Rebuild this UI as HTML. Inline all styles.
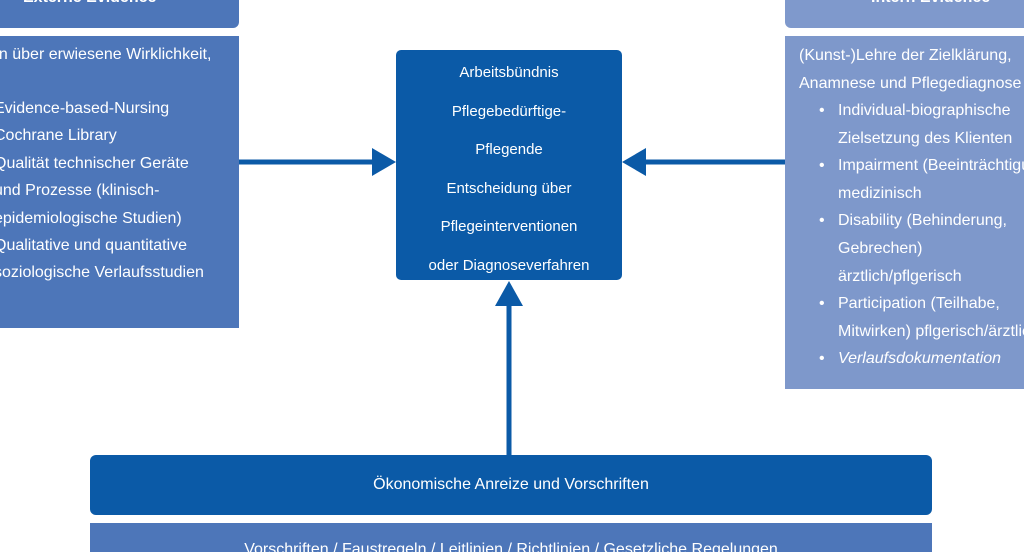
<!DOCTYPE html>
<html><head><meta charset="utf-8"><style>
body{margin:0;width:1024px;height:552px;overflow:hidden;background:#fff;position:relative;font-family:"Liberation Sans",sans-serif;color:#fff}
.b{position:absolute;overflow:hidden}
.t{position:absolute;white-space:nowrap;font-size:15px}
</style></head><body>
<div class="b" style="left:0;top:0;width:239px;height:28px;background:#4d76b9;border-bottom-right-radius:6px"><div class="t" style="left:23px;top:-11px;font-weight:bold;font-size:16px">Externe Evidence</div></div>
<div class="b" style="left:0;top:36px;width:239px;height:292px;background:#4d76b9">
<div class="t" style="left:-10px;top:10px;font-size:16px">en über erwiesene Wirklichkeit,</div>
<div class="t" style="left:-6px;top:59px;line-height:27.4px;font-size:16px">Evidence-based-Nursing<br>Cochrane Library<br>Qualität technischer Geräte<br>und Prozesse (klinisch-<br>epidemiologische Studien)<br>Qualitative und quantitative<br>soziologische Verlaufsstudien</div></div>
<div class="b" style="left:785px;top:0;width:239px;height:28px;background:#7f99cc;border-bottom-left-radius:6px"><div class="t" style="left:86px;top:-11px;font-weight:bold;font-size:16px">Intern Evidence</div></div>
<div class="b" style="left:785px;top:36px;width:239px;height:353px;background:#7e98cb">
<div class="t" style="left:14px;top:6px;line-height:27.6px;font-size:16px">(Kunst-)Lehre der Zielklärung,<br>Anamnese und Pflegediagnose</div>
<div class="t" style="left:34px;top:61px;line-height:27.6px;font-size:16px">•<br><br>•<br><br>•<br><br><br>•<br><br>•</div>
<div class="t" style="left:53px;top:61px;line-height:27.6px;font-size:16px">Individual-biographische<br>Zielsetzung des Klienten<br>Impairment (Beeinträchtigung)<br>medizinisch<br>Disability (Behinderung,<br>Gebrechen)<br>ärztlich/pflgerisch<br>Participation (Teilhabe,<br>Mitwirken) pflgerisch/ärztlich<br><i>Verlaufsdokumentation</i></div></div>
<div class="b" style="left:396px;top:50px;width:226px;height:230px;background:#0b5aa7;border-radius:5px">
<div class="t" style="left:0;width:226px;text-align:center;top:4px;line-height:38.5px">Arbeitsbündnis<br>Pflegebedürftige-<br>Pflegende<br>Entscheidung über<br>Pflegeinterventionen<br>oder Diagnoseverfahren</div></div>
<svg class="b" style="left:0;top:0" width="1024" height="552">
<g fill="#0b5aa7" stroke="#0b5aa7">
<line x1="239" y1="162" x2="375" y2="162" stroke-width="5"/><polygon points="372,148 396,162 372,176" stroke="none"/>
<line x1="643" y1="162" x2="785" y2="162" stroke-width="5"/><polygon points="646,148 622,162 646,176" stroke="none"/>
<line x1="509" y1="303" x2="509" y2="456" stroke-width="5"/><polygon points="495,306 509,281 523,306" stroke="none"/>
</g></svg>
<div class="b" style="left:90px;top:455px;width:842px;height:60px;background:#0b5aa7;border-radius:6px">
<div class="t" style="left:0;width:842px;text-align:center;top:21px;font-size:16px">Ökonomische Anreize und Vorschriften</div></div>
<div class="b" style="left:90px;top:523px;width:842px;height:29px;background:#4d76b9">
<div class="t" style="left:0;width:842px;text-align:center;top:18px;font-size:16px">Vorschriften / Faustregeln / Leitlinien / Richtlinien / Gesetzliche Regelungen</div></div>
</body></html>
